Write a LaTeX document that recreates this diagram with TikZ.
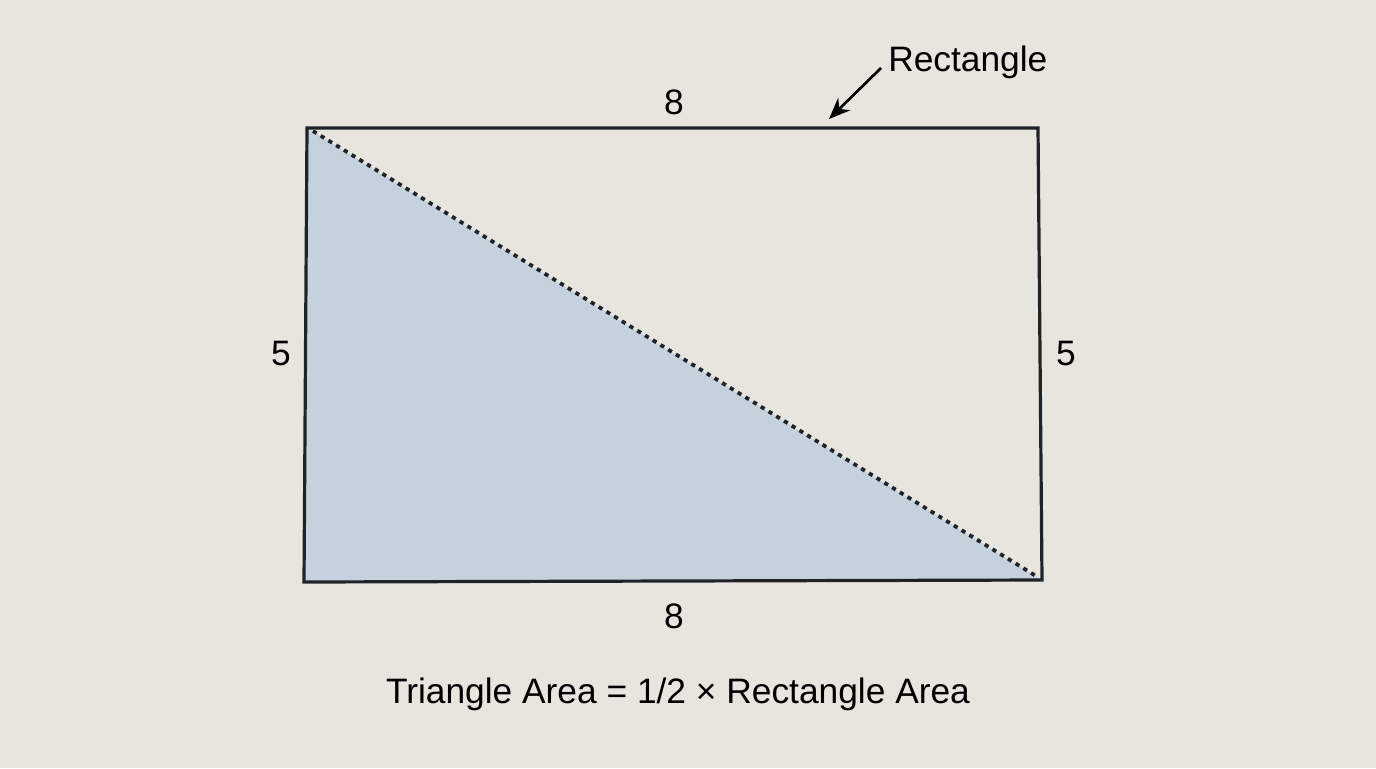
\documentclass[tikz,border=0pt]{standalone}
\usepackage{fontspec}
\setmainfont{Liberation Sans}
\usetikzlibrary{arrows.meta,calc}
\definecolor{bg}{HTML}{E8E5DF}
\definecolor{ink}{HTML}{1E2328}
\definecolor{tri}{HTML}{C5D1DD}
\tikzset{
  lbl/.style={font=\fontsize{26.5}{30}\selectfont, text=black, inner sep=0pt},
  edge/.style={draw=ink, line width=2.4pt, line join=miter},
  diag/.style={draw=ink, line width=2.8pt, dash pattern=on 3.2pt off 3.6pt},
  pointer/.style={draw=black, line width=2pt, -{Stealth[length=16pt,width=13pt]}}
}
\begin{document}
\begin{tikzpicture}[x=0.75pt,y=-0.75pt]
\fill[bg] (0,0) rectangle (1376,768);
\useasboundingbox (0,0) rectangle (1376,768);
\coordinate (tl) at (307,128);
\coordinate (tr) at (1038,128);
\coordinate (br) at (1042,580);
\coordinate (bl) at (304,582);
\fill[tri] (tl) -- (br) -- (bl) -- cycle;
\draw[diag] ($(tl)+(6,3)$) -- ($(br)+(-6,-4)$);
\draw[edge] (tl) -- (tr) -- (br) -- (bl) -- cycle;
\node[lbl] (top) at (674,102) {8};
\node[lbl] (bot) at (674,616) {8};
\node[lbl] (left) at (281,354) {5};
\node[lbl] (right) at (1066,354) {5};
\node[lbl, anchor=west] (rect) at (888,62) {Rectangle};
\coordinate (tip) at (829,119);
\draw[pointer] (881,68) -- (tip);
\node[lbl] (formula) at (678,694) {Triangle Area = 1/2 × Rectangle Area};
\end{tikzpicture}
\end{document}
